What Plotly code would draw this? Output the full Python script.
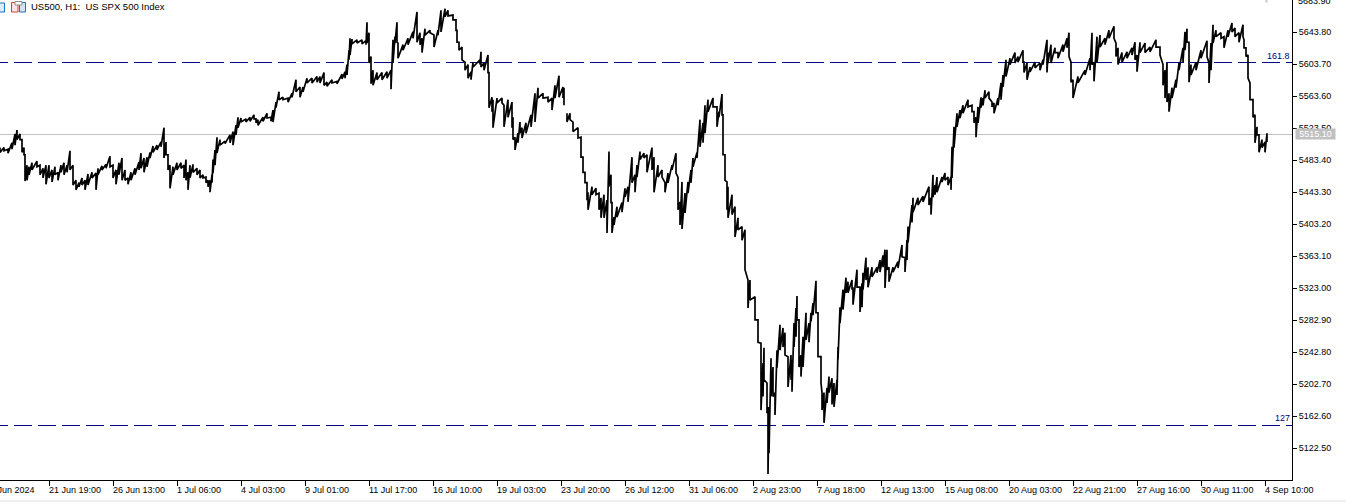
import plotly.graph_objects as go

chart_title = "US500, H1:  US SPX 500 Index"
price_ticks = [5643.80, 5603.70, 5563.60, 5523.50, 5483.40, 5443.30, 5403.20, 5363.10, 5323.00,
               5282.90, 5242.80, 5202.70, 5162.60, 5122.50]
top_price_tick = 5683.90
time_ticks = [-14.7, 49.3, 113.3, 177.3, 241.3, 305.3, 369.3, 433.3, 497.3, 561.3, 625.3, 689.3, 753.3,
              817.3, 881.3, 945.3, 1009.3, 1073.3, 1137.3, 1201.3, 1265.3]
time_labels = ["18 Jun 2024", "21 Jun 19:00", "26 Jun 13:00", "1 Jul 06:00", "4 Jul 03:00", "9 Jul 01:00",
               "11 Jul 17:00", "16 Jul 10:00", "19 Jul 03:00", "23 Jul 20:00", "26 Jul 12:00", "31 Jul 06:00",
               "2 Aug 23:00", "7 Aug 18:00", "12 Aug 13:00", "15 Aug 08:00", "20 Aug 03:00", "22 Aug 21:00",
               "27 Aug 16:00", "30 Aug 11:00", "4 Sep 10:00"]
last_price = 5515.10
last_price_line = 5515.35
fib_1618 = 5605.6
fib_127 = 5150.7

bar_x = [0,4,8,12,15,17,20,22,24,25,27,29,32,37,40,43,46,49,52,55,58,61,64,67,70,73,76,79,82,85,88,92,96,98,
 102,106,110,113,116,119,122,125,128,131,135,139,141,144,147,150,153,157,161,164,166,168,170,173,177,181,184,186,188,190,193,197,
 200,203,206,208,210,212,213,215,217,220,225,230,233,236,238,241,246,250,254,256,258,263,267,271,273,276,279,283,288,292,296,
 300,303,307,312,317,320,324,327,332,337,342,345,347,349,350,352,357,362,366,367,369,371,373,377,382,387,391,393,395,397,398,
 403,408,413,417,420,422,425,430,434,438,441,445,448,453,456,457,459,462,465,468,471,473,480,481,484,488,489,492,493,497,
 502,504,508,512,513,515,518,520,522,526,531,535,538,543,548,552,555,559,563,564,None,567,570,573,578,581,583,585,587,588,592,596,599,
 601,604,607,609,611,612,614,617,622,625,628,632,635,637,640,644,647,652,654,658,662,665,668,672,676,678,680,682,685,688,691,693,697,
 700,703,705,708,713,717,719,722,723,725,727,728,732,735,738,742,745,748,750,755,758,761,763,764,767,768,769,771,773,775,777,780,783,785,788,791,792,794,796,797,799,
 801,803,806,809,811,813,816,818,821,822,824,827,829,832,834,837,838,840,843,846,848,852,853,857,860,862,863,866,868,872,877,880,883,885,887,889,893,898,
 902,905,907,908,912,913,918,923,929,931,933,935,937,942,945,948,951,952,954,957,960,963,968,972,974,976,978,981,983,985,989,992,994,998,
 1001,1003,1006,1010,1015,1018,1023,1024,1027,1030,1035,1040,1043,1047,1048,1051,1055,1058,1063,1067,1069,1071,1073,1078,1085,1090,1092,1094,1097,
 1100,1105,1109,1114,1116,1118,1122,1127,1132,1135,1137,1140,1145,1150,1156,1160,1163,1165,1167,1169,1172,1176,1179,1183,1185,1187,1189,1191,1196,
 1201,1207,1209,1211,1213,1216,1221,1224,1228,1232,1235,1239,1243,1244,1246,1248,1250,1253,1255,1257,1259,1262,1265,1267]

bar_high = [5499,5499,5497,5505,5516,5521,5516,5509,5499,5490,5477,5475,5480,5482,5477,5473,5477,5477,5471,5475,5468,5477,5480,5477,5495,5477,5458,5455,5461,5458,5466,5468,5467,5473,
 5476,5478,5488,5477,5471,5480,5486,5471,5461,5468,5473,5481,5492,5486,5487,5493,5501,5502,5506,5524,5506,5490,5477,5475,5480,5480,5477,5484,5468,5477,5478,5473,
 5471,5465,5462,5458,5458,5465,5484,5496,5512,5509,5507,5515,5519,5527,5537,5536,5535,5537,5540,5535,5534,5537,5542,5537,5546,5556,5569,5562,5561,5567,5584,
 5575,5575,5586,5586,5588,5588,5593,5581,5584,5582,5591,5594,5603,5621,5636,5635,5634,5634,5633,5656,5643,5613,5596,5593,5593,5594,5596,5634,5638,5656,5630,
 5628,5636,5644,5669,5643,5636,5648,5646,5640,5646,5671,5673,5671,5665,5659,5646,5631,5625,5606,5603,5594,5606,5609,5619,5605,5615,5593,5562,5559,5561,
 5561,5552,5559,5556,5537,5512,5517,5531,5524,5530,5540,5567,5574,5567,5562,5561,5577,5589,5575,5574,None,5542,5542,5531,5524,5512,5487,5468,5455,5443,5450,5448,5442,
 5436,5440,5433,5494,5465,5430,5412,5425,5430,5448,5450,5487,5465,5477,5494,5492,5490,5499,5487,5477,5471,5455,5467,5477,5492,5462,5431,5456,5442,5456,5471,5486,5493,
 5534,5530,5552,5559,5561,5550,5544,5566,5540,5490,5456,5450,5440,5425,5411,5400,5396,5333,5333,5312,5283,5254,5229,5248,5204,5174,5174,5235,5224,5192,5245,5277,5273,5267,5237,5239,5233,5279,5298,5313,5283,
 5239,5262,5292,5279,5292,5304,5332,5292,5237,5192,5192,5198,5212,5210,5204,5208,5249,5299,5321,5336,5331,5333,5324,5346,5324,5329,5342,5361,5349,5349,5349,5358,5364,5371,5371,5349,5349,5356,
 5377,5361,5383,5400,5427,5436,5436,5438,5450,5436,5465,5452,5462,5462,5467,5462,5462,5500,5525,5542,5546,5552,5559,5552,5544,5537,5550,5562,5561,5571,5569,5556,5555,5561,
 5580,5590,5609,5611,5618,5613,5621,5606,5605,5600,5606,5605,5609,5634,5618,5628,5624,5618,5628,5636,5643,5606,5584,5588,5596,5611,5643,5606,5638,
 5640,5636,5646,5651,5630,5624,5618,5619,5624,5631,5615,5631,5630,5625,5634,5625,5603,5596,5605,5567,5574,5584,5605,5624,5644,5648,5631,5603,5606,
 5621,5633,5605,5630,5653,5646,5643,5638,5646,5655,5649,5643,5653,5634,5624,5615,5580,5559,5540,5525,5515,5509,5506,5517]

bar_low = [5493,5495,5492,5497,5502,5509,5509,5493,5490,5457,5458,5465,5471,5475,5465,5461,5453,5461,5456,5465,5458,5468,5465,5468,5471,5452,5446,5450,5452,5446,5452,5461,5446,5465,
 5471,5473,5475,5461,5453,5465,5458,5458,5453,5458,5465,5471,5473,5468,5475,5486,5493,5496,5500,5486,5490,5471,5448,5465,5471,5473,5461,5458,5446,5461,5468,5465,
 5461,5461,5455,5450,5443,5455,5467,5477,5492,5502,5504,5505,5502,5515,5524,5531,5531,5532,5535,5530,5527,5532,5536,5532,5531,5549,5559,5559,5556,5562,5569,
 5562,5569,5580,5580,5581,5580,5577,5576,5580,5579,5585,5586,5590,5609,5615,5629,5630,5629,5628,5630,5605,5579,5577,5584,5584,5586,5572,5605,5630,5631,5611,
 5621,5628,5636,5631,5628,5618,5640,5643,5625,5640,5644,5663,5664,5659,5646,5631,5621,5609,5596,5586,5584,5600,5603,5600,5596,5593,5549,5544,5524,5555,
 5555,5525,5537,5524,5509,5496,5505,5517,5511,5517,5525,5531,5561,5561,5556,5546,5561,5562,5561,5552,None,5531,5534,5519,5511,5487,5468,5455,5433,5421,5440,5440,5421,
 5411,5411,5392,5450,5430,5392,5402,5412,5418,5437,5431,5455,5443,5462,5484,5486,5468,5471,5443,5462,5462,5443,5455,5471,5467,5421,5402,5397,5417,5442,5455,5475,5486,
 5500,5505,5517,5544,5550,5525,5537,5540,5490,5458,5421,5411,5415,5387,5396,5383,5346,5298,5308,5283,5255,5170,5187,5208,5166,5090,5116,5187,5187,5164,5223,5245,5249,5239,5199,5208,5193,5249,5262,5283,5224,
 5212,5224,5258,5255,5281,5289,5292,5237,5204,5170,5154,5179,5192,5177,5174,5189,5233,5279,5296,5317,5317,5321,5302,5324,5293,5299,5321,5333,5324,5337,5342,5343,5349,5323,5346,5331,5343,5348,
 5362,5343,5358,5380,5405,5418,5427,5431,5427,5415,5437,5440,5443,5456,5458,5452,5446,5461,5499,5525,5536,5542,5550,5544,5530,5512,5530,5549,5552,5561,5561,5550,5542,5552,
 5559,5575,5588,5603,5605,5606,5606,5593,5584,5594,5599,5596,5603,5593,5605,5605,5618,5611,5619,5624,5613,5581,5561,5580,5590,5596,5603,5582,5605,
 5625,5628,5636,5636,5613,5603,5606,5611,5615,5609,5594,5618,5618,5619,5625,5615,5577,5561,5556,5544,5561,5574,5596,5606,5621,5631,5581,5590,5596,
 5611,5613,5580,5596,5630,5638,5636,5624,5638,5644,5638,5631,5638,5624,5613,5586,5559,5537,5505,5515,5493,5499,5493,5506]

W, H = 1346, 502
L, R, T, B = 0, 54, 0, 22
PW, PH = W - L - R, H - T - B
FONT = "Liberation Sans"
BLACK = "#000000"
NAVY = "#000080"
SILVER = "#C0C0C0"


def px(v):
    return v / PW


def py(v):
    return 1 - v / PH


# each bar runs high to low, then the line steps on to the next bar's high
zig_x, zig_y = [], []
for x, hi, lo in zip(bar_x, bar_high, bar_low):
    zig_x += [x, x]
    zig_y += [hi, lo]

fig = go.Figure()
fig.add_trace(go.Scatter(x=zig_x, y=zig_y, mode="lines", line=dict(color=BLACK, width=1.7),
                         hoverinfo="skip", showlegend=False, connectgaps=False))

shapes = [
    dict(type="line", xref="x", yref="y", x0=-10, x1=1292, y0=fib_1618, y1=fib_1618,
         line=dict(color=NAVY, width=1, dash="18px,6px"), layer="below"),
    dict(type="line", xref="x", yref="y", x0=-10, x1=1292, y0=fib_127, y1=fib_127,
         line=dict(color=NAVY, width=1, dash="18px,6px"), layer="below"),
    dict(type="line", xref="x", yref="y", x0=0, x1=1292, y0=last_price_line, y1=last_price_line,
         line=dict(color=SILVER, width=1), layer="below"),
    dict(type="rect", xref="paper", yref="paper", x0=0, x1=W / PW, y0=py(500), y1=py(502),
         fillcolor="#F0F0F0", line=dict(width=0)),
    dict(type="rect", xref="paper", yref="paper", x0=px(-2), x1=px(4.5), y0=py(3), y1=py(12),
         fillcolor="#DCEBF7", line=dict(color="#1E72B8", width=1)),
    dict(type="rect", xref="paper", yref="paper", x0=px(11.5), x1=px(18), y0=py(2.5), y1=py(12),
         fillcolor="#FCE4E0", line=dict(color="#E0392B", width=1)),
    dict(type="rect", xref="paper", yref="paper", x0=px(19.5), x1=px(25.5), y0=py(2.5), y1=py(12),
         fillcolor="#CFE4F5", line=dict(color="#1E72B8", width=1)),
    dict(type="rect", xref="paper", yref="paper", x0=px(15), x1=px(22), y0=py(1.5), y1=py(5),
         fillcolor="#FFFFFF", line=dict(color="#909090", width=1)),
    dict(type="line", xref="paper", yref="paper", x0=px(1266.5), x1=px(1266.5), y0=py(0), y1=py(2.5),
         line=dict(color="#C8C8C8", width=2)),
]

annotations = [
    dict(text=chart_title, xref="paper", yref="paper", x=px(28.7), y=py(7), xanchor="left", yanchor="middle",
         showarrow=False, font=dict(family=FONT, size=9.5, color="#000000")),
    dict(text="161.8", xref="paper", yref="paper", x=px(1291.5), y=py(55.7), xanchor="right", yanchor="middle",
         showarrow=False, font=dict(family=FONT, size=9, color=NAVY)),
    dict(text="127", xref="paper", yref="paper", x=px(1291.5), y=py(418.3), xanchor="right", yanchor="middle",
         showarrow=False, font=dict(family=FONT, size=9, color=NAVY)),
    dict(text=f"{last_price:.2f}", xref="paper", yref="paper", x=px(1295), y=py(134), xanchor="left", yanchor="middle",
         showarrow=False, bgcolor=SILVER, borderpad=0, width=39, height=10, align="center",
         font=dict(family=FONT, size=9, color="#FFFFFF")),
    dict(text=f"{top_price_tick:.2f}", xref="paper", yref="paper", x=px(1296), y=py(0.5), xanchor="left", yanchor="middle",
         showarrow=False, font=dict(family=FONT, size=9, color="#000000")),
]
for t, lab in zip(time_ticks, time_labels):
    annotations.append(dict(text=lab, xref="paper", yref="paper", x=px(t - 2), y=py(489.5), xanchor="left",
                            yanchor="middle", showarrow=False, font=dict(family=FONT, size=9, color="#000000")))

fig.update_layout(
    width=W, height=H, margin=dict(l=L, r=R, t=T, b=B, pad=0), autosize=False,
    paper_bgcolor="#FFFFFF", plot_bgcolor="#FFFFFF", showlegend=False,
    shapes=shapes, annotations=annotations,
    xaxis=dict(range=[0, PW], tickmode="array", tickvals=time_ticks, ticktext=[""] * len(time_ticks),
               ticks="outside", ticklen=5, tickcolor=BLACK, tickwidth=1, showgrid=False, zeroline=False,
               showline=True, linecolor=BLACK, linewidth=1, fixedrange=True),
    yaxis=dict(side="right", range=[5082.4, 5683.95], tickmode="array", tickvals=price_ticks,
               ticktext=[f"{v:.2f}" for v in price_ticks], ticks="outside", ticklen=4, tickcolor=BLACK, tickwidth=1,
               showgrid=False, zeroline=False, showline=True, linecolor=BLACK, linewidth=1, fixedrange=True,
               tickfont=dict(family=FONT, size=9, color="#000000")),
)

fig.write_html("out.html", config={"displayModeBar": False},
               post_script="document.body.style.margin='0';document.documentElement.style.overflow='hidden';")
